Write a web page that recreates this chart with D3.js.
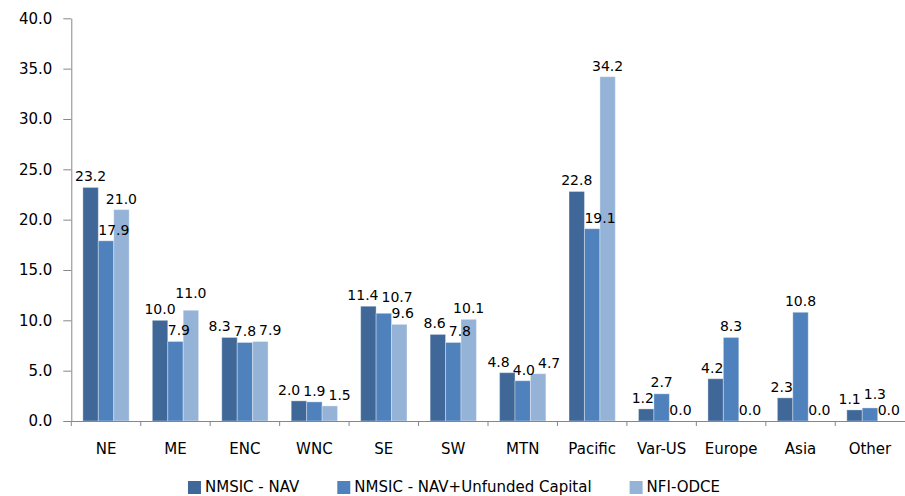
<!DOCTYPE html>
<html>
<head>
<meta charset="utf-8">
<script src="https://cdn.jsdelivr.net/npm/d3@7"></script>
<style>
  html, body { margin: 0; padding: 0; background: #fff; }
  svg { display: block; font-family: "DejaVu Sans", sans-serif; }
</style>
</head>
<body>
<svg id="chart" width="905" height="496"></svg>
<script>
// Regional allocation (%) by series
const categories = ["NE", "ME", "ENC", "WNC", "SE", "SW", "MTN", "Pacific", "Var-US", "Europe", "Asia", "Other"];
const seriesNames = ["NMSIC - NAV", "NMSIC - NAV+Unfunded Capital", "NFI-ODCE"];
const navValues = [23.2, 10.0, 8.3, 2.0, 11.4, 8.6, 4.8, 22.8, 1.2, 4.2, 2.3, 1.1];
const navUnfundedValues = [17.9, 7.9, 7.8, 1.9, 10.7, 7.8, 4.0, 19.1, 2.7, 8.3, 10.8, 1.3];
const odceValues = [21.0, 11.0, 7.9, 1.5, 9.6, 10.1, 4.7, 34.2, 0.0, 0.0, 0.0, 0.0];
const yTicks = [0, 5, 10, 15, 20, 25, 30, 35, 40];

const seriesValues = [navValues, navUnfundedValues, odceValues];
const colors = ["#3F6899", "#4F81BD", "#95B3D7"];
const axisColor = "#868686";

const svg = d3.select("#chart");
const plot = { left: 71.3, right: 904.7, top: 18.3, bottom: 421 };

const x = d3.scaleBand().domain(categories).range([plot.left, plot.right]).paddingInner(0).paddingOuter(0);
const xs = d3.scaleBand().domain(d3.range(seriesNames.length)).range([0, x.bandwidth()]).paddingInner(0).paddingOuter(0.75);
const y = d3.scaleLinear().domain([0, 40]).range([plot.bottom, plot.top]);

// Y axis
const yAxis = svg.append("g")
  .attr("transform", `translate(${plot.left},0)`)
  .call(d3.axisLeft(y).tickValues(yTicks).tickFormat(d3.format(".1f")).tickSize(8).tickSizeOuter(0).tickPadding(11));
yAxis.select(".domain").attr("stroke", axisColor);
yAxis.selectAll(".tick line").attr("stroke", axisColor);
yAxis.selectAll(".tick text").attr("fill", "#000").style("font-size", "15px").style("font-family", "DejaVu Sans");

// Bars
const rows = [];
categories.forEach((c, ci) => {
  seriesValues.forEach((vals, si) => rows.push({ cat: c, ci, si, v: vals[ci] }));
});

svg.append("g").selectAll("rect").data(rows).join("rect")
  .attr("x", d => x(d.cat) + xs(d.si))
  .attr("y", d => y(d.v))
  .attr("width", xs.bandwidth())
  .attr("height", d => y(0) - y(d.v))
  .attr("fill", d => colors[d.si])
  .attr("stroke", "#ffffff")
  .attr("stroke-opacity", 0.35)
  .attr("stroke-width", 1);

// X axis: baseline, boundary ticks, category labels
const xAxis = svg.append("g")
  .attr("transform", `translate(0,${plot.bottom})`)
  .call(d3.axisBottom(x).tickSize(0).tickPadding(22));
xAxis.select(".domain").attr("stroke", axisColor);
xAxis.selectAll(".tick text").attr("fill", "#000").style("font-size", "15px").style("font-family", "DejaVu Sans");
xAxis.append("g").selectAll("line").data(categories).join("line")
  .attr("x1", d => x(d)).attr("x2", d => x(d))
  .attr("y1", 0).attr("y2", 5)
  .attr("stroke", axisColor);

// Data labels, nudged so they don't collide with taller neighbouring bars or each other
const labelLayer = svg.append("g").style("font-size", "14px").style("font-family", "DejaVu Sans").attr("fill", "#000");
const fmt = d3.format(".1f");
const measure = labelLayer.append("text").attr("visibility", "hidden");
const textWidth = s => { measure.text(s); return measure.node().getComputedTextLength(); };
const gap = 3, capH = 11, lift = 6;
const allLabels = [];

categories.forEach((c, ci) => {
  const items = seriesValues.map((vals, si) => {
    const bx = x(c) + xs(si), bw = xs.bandwidth();
    const top = y(vals[ci]);
    const text = fmt(vals[ci]);
    return { si, text, bx, bw, top, w: textWidth(text), cx: bx + bw / 2, base: Math.min(top - lift, plot.bottom - 3) };
  });
  // keep labels off taller adjacent bars
  items.forEach((it, i) => {
    const L = items[i - 1], R = items[i + 1];
    if (L && L.top < it.base && it.cx - it.w / 2 < L.bx + L.bw) {
      it.cx = L.bx + L.bw + it.w / 2;
    } else if (R && R.top < it.base && it.cx + it.w / 2 > R.bx) {
      it.cx = R.bx - it.w / 2;
    }
    it.want = it.cx;
  });
  // group overlapping labels and spread each group around its mean position
  const overlaps = (a, b) =>
    a.cx - a.w / 2 < b.cx + b.w / 2 + gap && b.cx - b.w / 2 < a.cx + a.w / 2 + gap &&
    a.base - capH < b.base && b.base - capH < a.base;
  const layout = grp => {
    const total = d3.sum(grp, g => g.w) + gap * (grp.length - 1);
    let pos = d3.mean(grp, g => g.want) - total / 2;
    grp.forEach(g => { g.cx = pos + g.w / 2; pos += g.w + gap; });
  };
  let cluster = [items[0]];
  for (let i = 1; i < items.length; i++) {
    const it = items[i];
    if (cluster.some(g => overlaps(g, it))) { cluster.push(it); layout(cluster); }
    else cluster = [it];
  }
  allLabels.push(...items);
});

// final pass: lift the upper label of any pair whose text boxes still touch
const ascent = 13, descent = 3;
for (let pass = 0; pass < 4; pass++) {
  for (let i = 0; i < allLabels.length; i++) {
    for (let j = i + 1; j < allLabels.length; j++) {
      const a = allLabels[i], b = allLabels[j];
      const xOverlap = a.cx - a.w / 2 < b.cx + b.w / 2 && b.cx - b.w / 2 < a.cx + a.w / 2;
      if (!xOverlap) continue;
      const [hi, lo] = a.base <= b.base ? [a, b] : [b, a];
      const overlap = (hi.base + descent) - (lo.base - ascent);
      if (overlap > 0) hi.base -= overlap;
    }
  }
}
measure.remove();

labelLayer.selectAll("text.value").data(allLabels).join("text")
  .attr("class", "value")
  .attr("x", d => d.cx)
  .attr("y", d => d.base)
  .attr("text-anchor", "middle")
  .text(d => d.text);

// Legend
const legend = svg.append("g").style("font-size", "15px").style("font-family", "DejaVu Sans");
const items = legend.selectAll("g").data(seriesNames).join("g");
items.append("rect").attr("width", 13).attr("height", 13).attr("y", 481).attr("fill", (d, i) => colors[i]);
items.append("text").attr("x", 17).attr("y", 492).attr("fill", "#000").text(d => d);
const widths = [];
items.each(function () { widths.push(17 + d3.select(this).select("text").node().getComputedTextLength()); });
const itemGap = 38;
const totalW = d3.sum(widths) + itemGap * (widths.length - 1);
let lx = 454 - totalW / 2;
items.each(function (d, i) { d3.select(this).attr("transform", `translate(${lx},0)`); lx += widths[i] + itemGap; });
</script>
</body>
</html>
